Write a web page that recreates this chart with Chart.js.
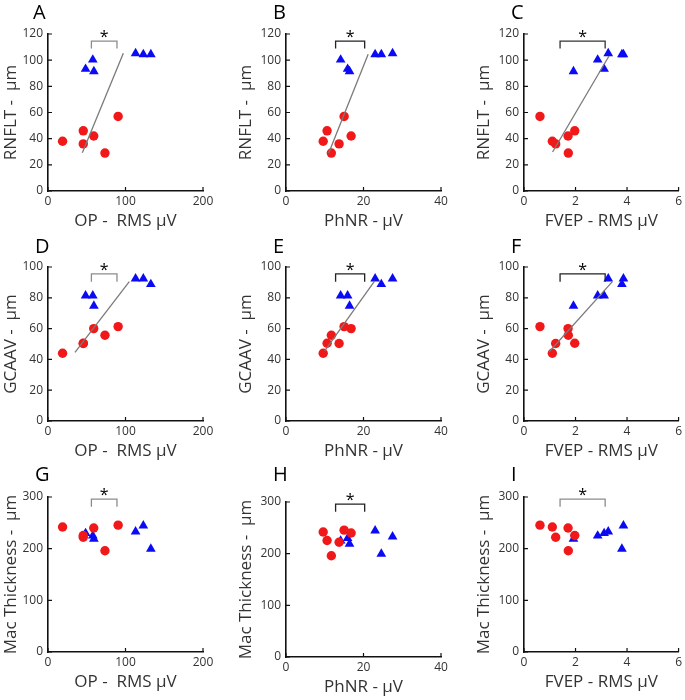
<!DOCTYPE html>
<html>
<head>
<meta charset="utf-8">
<script src="https://cdn.jsdelivr.net/npm/chart.js@4.4.0/dist/chart.umd.min.js"></script>
<style>
  body { margin: 0; background: #fff; width: 685px; height: 700px; position: relative; overflow: hidden; font-family: 'Open Sans', sans-serif; }
  canvas { position: absolute; }
  .letter { position: absolute; font-size: 20px; line-height: 20px; color: #000; }
</style>
</head>
<body>
<script>
// red circles (group 1), one entry per subject
const redOP    = [18.8, 45.5, 45.5, 59.0, 73.5, 90.5];
const redPhNR  = [9.6, 10.6, 13.7, 16.8, 11.7, 15.0];
const redFVEP  = [1.10, 1.97, 1.23, 1.71, 1.72, 0.62];
const redRNFLT = [38, 46, 36, 42, 29, 57];
const redGCA   = [44, 50.5, 50.3, 60, 55.7, 61.3];
const redMac   = [242, 225.5, 222, 240, 196, 245.5];

// blue triangles (group 2)
const blueOP    = [48.5, 57.8, 59.2, 113, 123, 132.7];
const bluePhNR  = [15.9, 14.1, 16.4, 27.5, 23.0, 24.6];
const blueFVEP  = [3.11, 2.86, 1.92, 3.27, 3.86, 3.80];
const blueRNFLT = [93.2, 100.3, 91.4, 105.2, 104.4, 104.4];
const blueGCA   = [81.4, 81.4, 74.7, 92.4, 92.4, 88.8];
const blueMac   = [229.7, 225, 219, 233, 244.5, 199.5];

// axes
const xTitles = ['OP -  RMS \u03bcV', 'PhNR - \u03bcV', 'FVEP - RMS \u03bcV'];
const yTitles = ['RNFLT -  \u03bcm', 'GCAAV -  \u03bcm', 'Mac Thickness -  \u03bcm'];
const xMax = [200, 40, 6];
const xStep = [100, 20, 2];
const yMax = [120, 100, 300];
const yStep = [20, 20, 100];
const panelLetters = ['A', 'B', 'C', 'D', 'E', 'F', 'G', 'H', 'I'];

// regression lines (end points), none in the bottom row
const fitX = [[44.3, 97.2], [11.0, 21.2], [1.11, 3.30], [34.8, 104.9], [10.0, 22.9], [0.98, 3.43]];
const fitY = [[29.3, 105.2], [28.8, 104.5], [29.8, 103.2], [44.6, 90.5], [45.5, 91.0], [45.0, 90.5]];

// significance brackets: x span per column, y (foot, top) per row
const bracketX = [[56, 89], [12.8, 20.3], [1.40, 3.15]];
const bracketY = [[109, 114.6], [90.5, 95.5], [281, 296]];
const bracketColors = ['#8c8c8c', '#222', '#333', '#8c8c8c', '#222', '#222', '#8c8c8c', '#222', '#8c8c8c'];

const xsRed = [redOP, redPhNR, redFVEP];
const xsBlue = [blueOP, bluePhNR, blueFVEP];
const ysRed = [redRNFLT, redGCA, redMac];
const ysBlue = [blueRNFLT, blueGCA, blueMac];

// page layout (plot area boxes)
const cols = [{ titleX: 11.5, left: 48, right: 203 }, { titleX: 246, left: 286, right: 441 }, { titleX: 484.5, left: 524, right: 679 }];
const rows = [{ top: 34, bottom: 191 }, { top: 267, bottom: 421 }, { top: 497, bottom: 652 }];
const letterPos = [[33, 2], [273, 2], [511, 2], [35, 236], [273, 236], [511, 236], [35, 464], [273, 464], [511, 464]];

const pts = (xs, ys) => xs.map((x, i) => ({ x, y: ys[i] }));

const extras = {
  id: 'extras',
  afterDraw(chart) {
    const { ctx, scales: { x, y } } = chart;
    const o = chart.options.plugins.extras;
    ctx.save();
    // inward tick marks
    ctx.strokeStyle = '#111';
    ctx.lineWidth = 1.2;
    ctx.beginPath();
    x.ticks.forEach(t => {
      const px = x.getPixelForValue(t.value);
      ctx.moveTo(px, y.bottom);
      ctx.lineTo(px, y.bottom - 4);
    });
    y.ticks.forEach(t => {
      const py = y.getPixelForValue(t.value);
      ctx.moveTo(x.left, py);
      ctx.lineTo(x.left + 4, py);
    });
    ctx.stroke();
    // star over bracket
    ctx.fillStyle = '#000';
    ctx.font = "16px 'Open Sans'";
    ctx.textAlign = 'center';
    ctx.textBaseline = 'alphabetic';
    ctx.fillText('*', x.getPixelForValue((o.bx[0] + o.bx[1]) / 2), y.getPixelForValue(o.by[1]) + 1);
    ctx.restore();
  }
};

panelLetters.forEach((letter, i) => {
  const r = Math.floor(i / 3), c = i % 3;
  const col = cols[c];
  const row = i === 7 ? { top: 502, bottom: 657 } : rows[r];

  const cLeft = Math.round(col.titleX - 10.2);
  const cRight = Math.min(col.right + 20, 685);
  const cTop = row.top - 30;
  const cBottom = row.bottom + 40;

  const canvas = document.createElement('canvas');
  canvas.width = cRight - cLeft;
  canvas.height = cBottom - cTop;
  canvas.style.left = cLeft + 'px';
  canvas.style.top = cTop + 'px';
  document.body.appendChild(canvas);

  const div = document.createElement('div');
  div.className = 'letter';
  div.textContent = letter;
  div.style.left = letterPos[i][0] + 'px';
  div.style.top = letterPos[i][1] + 'px';
  document.body.appendChild(div);

  const datasets = [];
  if (fitX[i]) {
    datasets.push({ data: pts(fitX[i], fitY[i]), showLine: true, borderColor: '#7a7a7a', borderWidth: 1.3, pointRadius: 0 });
  }
  const bx = bracketX[c], by = bracketY[r];
  datasets.push({
    data: pts([bx[0], bx[0], bx[1], bx[1]], [by[0], by[1], by[1], by[0]]),
    showLine: true, borderColor: bracketColors[i], borderWidth: 1.3, pointRadius: 0, clip: false
  });
  datasets.push({ data: pts(xsRed[c], ysRed[r]), pointStyle: 'circle', pointRadius: 4.7, backgroundColor: '#f01818', borderWidth: 0 });
  datasets.push({ data: pts(xsBlue[c], ysBlue[r]), pointStyle: 'triangle', pointRadius: 5.6, backgroundColor: '#0a0af5', borderWidth: 0 });

  new Chart(canvas.getContext('2d'), {
    type: 'scatter',
    data: { datasets },
    plugins: [extras],
    options: {
      responsive: false,
      animation: false,
      events: [],
      layout: { padding: { top: 30, right: cRight - col.right, left: 0, bottom: 0 } },
      plugins: { legend: { display: false }, tooltip: { enabled: false }, extras: { bx, by } },
      scales: {
        x: {
          type: 'linear', min: 0, max: xMax[c],
          afterFit: s => { s.height = 40; },
          grid: { display: false, drawTicks: false },
          border: { color: '#111', width: 1.6 },
          ticks: { stepSize: xStep[c], padding: 3, color: '#333', font: { family: 'Open Sans', size: 12 }, maxRotation: 0 },
          title: { display: true, text: xTitles[c], color: '#333', padding: 0, font: { family: 'Open Sans', size: 17 } }
        },
        y: {
          type: 'linear', min: 0, max: yMax[r],
          afterFit: s => { s.width = col.left - cLeft; },
          grid: { display: false, drawTicks: false },
          border: { color: '#111', width: 1.6 },
          ticks: { stepSize: yStep[r], padding: 5, color: '#333', font: { family: 'Open Sans', size: 12 } },
          title: { display: true, text: yTitles[r], color: '#333', padding: 0, font: { family: 'Open Sans', size: 17 } }
        }
      }
    }
  });
});
</script>
</body>
</html>
